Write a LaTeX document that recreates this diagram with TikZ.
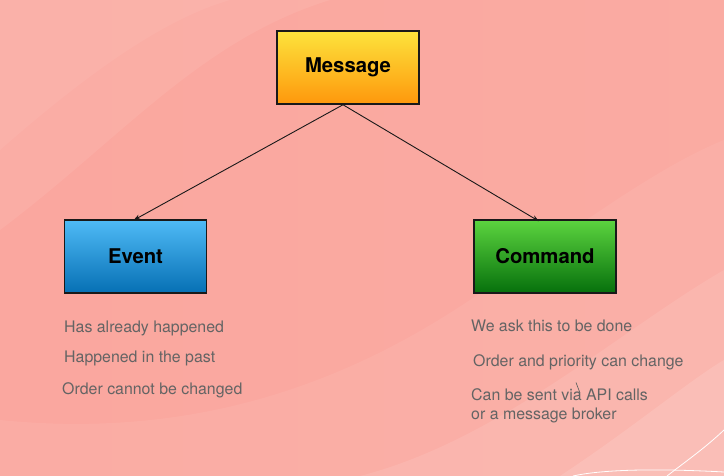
\documentclass[tikz,border=0pt]{standalone}
\usepackage{fontspec}
\setmainfont{TeX Gyre Heros}
\usetikzlibrary{arrows.meta}
\definecolor{bgA}{HTML}{F9A39B}
\definecolor{bgB}{HTML}{FDBDB3}
\definecolor{txtgray}{HTML}{646464}
\definecolor{msgT}{HTML}{FDE33C}
\definecolor{msgB}{HTML}{FE980C}
\definecolor{evT}{HTML}{4FBAF6}
\definecolor{evB}{HTML}{0670B4}
\definecolor{cmT}{HTML}{5CD43F}
\definecolor{cmB}{HTML}{06700C}
\tikzset{
  box/.style={draw=black!90, line width=1.5pt, minimum width=142pt, minimum height=73pt,
    font=\fontsize{20.3}{23}\selectfont\bfseries, text=black, inner sep=0pt},
  note/.style={anchor=base west, text=txtgray, font=\fontsize{15.9}{18}\selectfont, inner sep=0pt},
  link/.style={draw=black!90, line width=0.9pt, -{Stealth[length=7pt,width=5pt]}}
}
\begin{document}
\begin{tikzpicture}[x=1pt,y=-1pt]
\useasboundingbox (0,0) rectangle (724,476);
% background
\shade[left color=bgA!85!bgB, right color=bgA!70!bgB] (0,0) rectangle (724,476);
\fill[white, opacity=0.07] (0,0) -- (0,230) .. controls (120,140) and (200,40) .. (330,0) -- cycle;
\fill[white, opacity=0.05] (0,0) -- (0,150) .. controls (80,80) and (160,20) .. (230,0) -- cycle;
\fill[white, opacity=0.06] (0,476) -- (0,420) .. controls (200,440) and (350,380) .. (470,300) .. controls (560,240) and (650,170) .. (724,140) -- (724,476) -- cycle;
\fill[white, opacity=0.09] (360,476) .. controls (500,440) and (620,330) .. (724,270) -- (724,476) -- cycle;
\fill[white, opacity=0.12] (560,476) .. controls (630,430) and (690,380) .. (724,360) -- (724,476) -- cycle;
\draw[white, line width=0.8pt] (724,430) .. controls (705,448) and (685,462) .. (667,476);
\draw[white, line width=0.8pt] (573,476) .. controls (600,470) and (650,468) .. (724,472);
% nodes
\node[box, top color=msgT, bottom color=msgB] (msg) at (348,67.5) {Message};
\node[box, top color=evT, bottom color=evB] (ev) at (135.5,256.5) {Event};
\node[box, top color=cmT, bottom color=cmB] (cmd) at (545,256.5) {Command};
% connectors
\draw[link] ([xshift=-5pt]msg.south) -- ([xshift=-2pt,yshift=-1pt]ev.north);
\draw[link] ([xshift=-5pt]msg.south) -- ([xshift=-6pt,yshift=-2pt]cmd.north);
% notes
\node[note] (e1) at (64,332) {Has already happened};
\node[note] (e2) at (64,362.5) {Happened in the past};
\node[note] (e3) at (62,394) {Order cannot be changed};
\node[note] (c1) at (471,331.5) {We ask this to be done};
\node[note] (c2) at (473,366.5) {Order and priority can change};
\node[note] (c3) at (471,400) {Can be sent via API calls};
\node[note] (c4) at (471,419) {or a message broker};
\draw[txtgray, line width=0.7pt] (576,382.5) -- (580,393);
\end{tikzpicture}
\end{document}
